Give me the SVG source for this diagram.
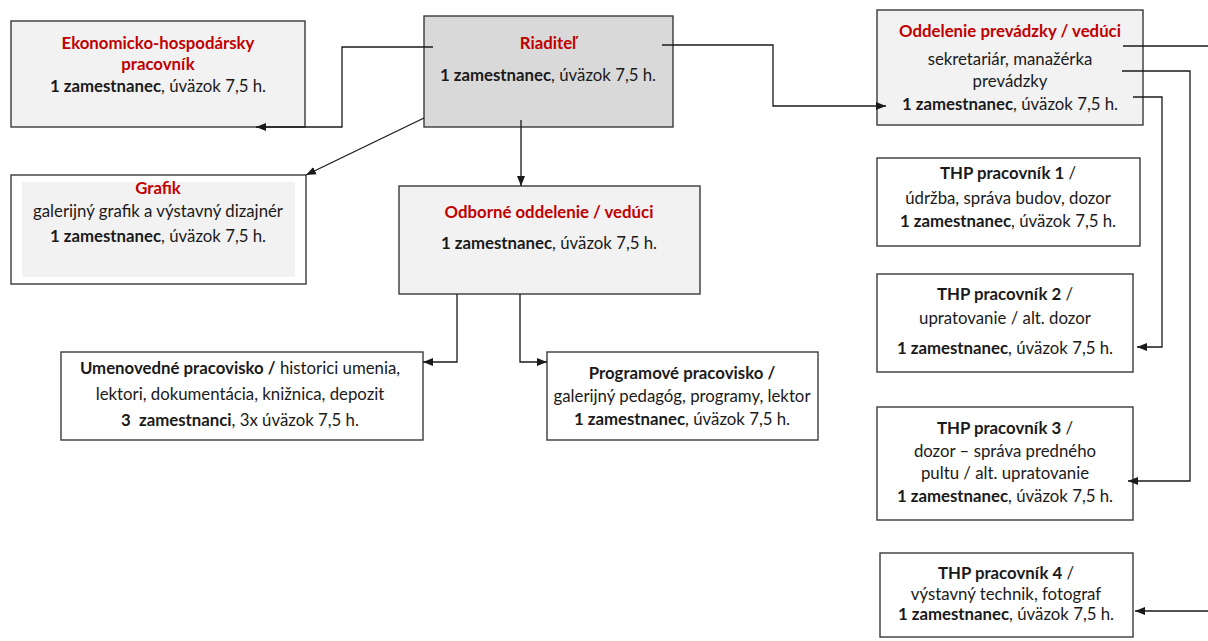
<svg xmlns="http://www.w3.org/2000/svg" width="1208" height="641" viewBox="0 0 1208 641">
<style>
.box{stroke:#3a3a3a;stroke-width:1.4}
.lt{fill:#f2f2f2}
.dk{fill:#d9d9d9}
.wh{fill:#ffffff}
text{font-family:Lato,"Liberation Sans",sans-serif;font-size:16.8px;fill:#1a1a1a;text-anchor:middle;dominant-baseline:central;white-space:pre}
.r{fill:#c00000;font-weight:bold}
.b{font-weight:bold}
.c{fill:none;stroke:#1a1a1a;stroke-width:1.3}
</style>
<defs>
<marker id="ah" viewBox="0 0 10 10" refX="10" refY="5" markerWidth="10" markerHeight="10" markerUnits="userSpaceOnUse" orient="auto">
<path d="M0,1 L10,5 L0,9 Z" fill="#1a1a1a"/>
</marker>
</defs>
<rect width="1208" height="641" fill="#ffffff"/>

<g id="ekonomicky">
<rect class="box lt" x="11" y="21" width="294" height="106"/>
<text x="158" y="42" class="r">Ekonomicko-hospodársky</text>
<text x="158" y="63" class="r">pracovník</text>
<text x="158" y="85"><tspan class="b">1 zamestnanec</tspan>, úväzok 7,5 h.</text>
</g>

<g id="riaditel">
<rect class="box dk" x="424" y="16" width="249" height="111"/>
<text x="548" y="42" class="r">Riaditeľ</text>
<text x="548" y="74"><tspan class="b">1 zamestnanec</tspan>, úväzok 7,5 h.</text>
</g>

<g id="oddelenie-prevadzky">
<rect class="box lt" x="877" y="10" width="266" height="115"/>
<text x="1010" y="30" class="r">Oddelenie prevádzky / vedúci</text>
<text x="1010" y="58">sekretariár, manažérka</text>
<text x="1010" y="80">prevádzky</text>
<text x="1010" y="103"><tspan class="b">1 zamestnanec</tspan>, úväzok 7,5 h.</text>
</g>

<g id="grafik">
<rect class="box wh" x="11" y="175" width="295" height="109"/>
<rect fill="#f2f2f2" x="22" y="182" width="273" height="95"/>
<text x="158" y="187" class="r">Grafik</text>
<text x="158" y="210">galerijný grafik a výstavný dizajnér</text>
<text x="158" y="235"><tspan class="b">1 zamestnanec</tspan>, úväzok 7,5 h.</text>
</g>

<g id="odborne">
<rect class="box lt" x="399" y="186" width="301" height="108"/>
<text x="549" y="211" class="r">Odborné oddelenie / vedúci</text>
<text x="549" y="242"><tspan class="b">1 zamestnanec</tspan>, úväzok 7,5 h.</text>
</g>

<g id="umenovedne">
<rect class="box wh" x="61" y="352" width="362" height="88"/>
<text x="240" y="367"><tspan class="b">Umenovedné pracovisko /</tspan> historici umenia,</text>
<text x="240" y="393">lektori, dokumentácia, knižnica, depozit</text>
<text x="240" y="419"><tspan class="b">3  zamestnanci</tspan>, 3x úväzok 7,5 h.</text>
</g>

<g id="programove">
<rect class="box wh" x="547" y="352" width="271" height="88"/>
<text x="682" y="372" class="b">Programové pracovisko /</text>
<text x="682" y="395">galerijný pedagóg, programy, lektor</text>
<text x="682" y="418"><tspan class="b">1 zamestnanec</tspan>, úväzok 7,5 h.</text>
</g>

<g id="thp1">
<rect class="box wh" x="877" y="158" width="263" height="88"/>
<text x="1008" y="172"><tspan class="b">THP pracovník 1</tspan> /</text>
<text x="1008" y="197">údržba, správa budov, dozor</text>
<text x="1008" y="220"><tspan class="b">1 zamestnanec</tspan>, úväzok 7,5 h.</text>
</g>

<g id="thp2">
<rect class="box wh" x="877" y="274" width="256" height="98"/>
<text x="1005" y="293"><tspan class="b">THP pracovník 2</tspan> /</text>
<text x="1005" y="317">upratovanie / alt. dozor</text>
<text x="1005" y="347"><tspan class="b">1 zamestnanec</tspan>, úväzok 7,5 h.</text>
</g>

<g id="thp3">
<rect class="box wh" x="877" y="407" width="256" height="113"/>
<text x="1005" y="427"><tspan class="b">THP pracovník 3</tspan> /</text>
<text x="1005" y="450">dozor – správa predného</text>
<text x="1005" y="472">pultu / alt. upratovanie</text>
<text x="1005" y="495"><tspan class="b">1 zamestnanec</tspan>, úväzok 7,5 h.</text>
</g>

<g id="thp4">
<rect class="box wh" x="880" y="553" width="253" height="84"/>
<text x="1006" y="572"><tspan class="b">THP pracovník 4</tspan> /</text>
<text x="1006" y="593">výstavný technik, fotograf</text>
<text x="1006" y="613"><tspan class="b">1 zamestnanec</tspan>, úväzok 7,5 h.</text>
</g>

<g id="connectors">
<polyline class="c" points="433,47 342,47 342,127 256,127" marker-end="url(#ah)"/>
<polyline class="c" points="662,45 773,45 773,106 886,106" marker-end="url(#ah)"/>
<line class="c" x1="424" y1="118" x2="306" y2="175" marker-end="url(#ah)"/>
<line class="c" x1="521" y1="120" x2="521" y2="186" marker-end="url(#ah)"/>
<polyline class="c" points="457,294 457,362 423,362" marker-end="url(#ah)"/>
<polyline class="c" points="520,294 520,362 547,362" marker-end="url(#ah)"/>
<line class="c" x1="1123" y1="46" x2="1208" y2="46"/>
<line class="c" x1="1208" y1="611" x2="1135" y2="611" marker-end="url(#ah)"/>
<polyline class="c" points="1122,71 1190,71 1190,481 1128,481" marker-end="url(#ah)"/>
<polyline class="c" points="1133,97 1162,97 1162,347 1137,347" marker-end="url(#ah)"/>
</g>
</svg>
